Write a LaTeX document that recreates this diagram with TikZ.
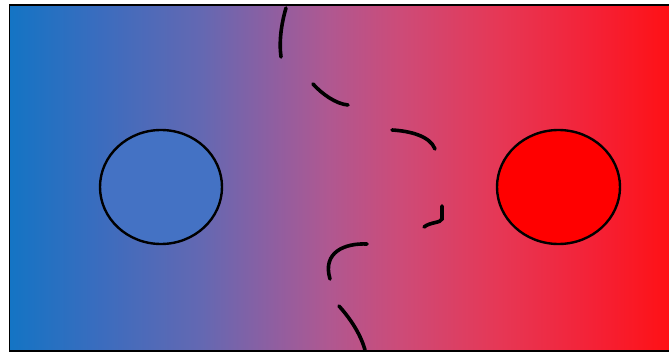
\documentclass[tikz,border=0pt]{standalone}
\pgfdeclarehorizontalshading{bluered}{100bp}{
  rgb(0bp)=(0.078,0.455,0.769);
  rgb(25bp)=(0.078,0.455,0.769);
  rgb(32bp)=(0.235,0.424,0.745);
  rgb(39.5bp)=(0.392,0.408,0.698);
  rgb(44.5bp)=(0.549,0.373,0.635);
  rgb(49bp)=(0.686,0.345,0.569);
  rgb(54.5bp)=(0.804,0.294,0.471);
  rgb(62bp)=(0.902,0.216,0.333);
  rgb(69.5bp)=(0.961,0.125,0.204);
  rgb(75bp)=(1,0.063,0.078);
  rgb(100bp)=(1,0.063,0.078)}
\definecolor{lblue}{RGB}{68,114,196}
\tikzset{rim/.style={line width=2.4pt,draw=black},
  stroke/.style={line width=3.6pt,line cap=round}}
\begin{document}
\begin{tikzpicture}[x=1pt,y=-1pt]
\useasboundingbox (0,0) rectangle (669,353);
\shade[shading=bluered] (9.5,5) rectangle (672,351);
\draw[line width=1.4pt] (672,5) -- (9.5,5) -- (9.5,351) -- (672,351);
\draw[rim,fill=lblue] (161,187) ellipse [x radius=61,y radius=57];
\draw[rim,fill=red] (558.5,187) ellipse [x radius=61.5,y radius=57];
% the broken line
\draw[stroke] (286,8) .. controls (281,25) and (279,42) .. (281,57);
\draw[stroke] (313,84) .. controls (322,94) and (336,104) .. (348,105);
\draw[stroke] (392,130) .. controls (410,131) and (430,136) .. (435,149);
\draw[stroke] (442,206) -- (442,219) .. controls (441,223) and (430,222) .. (424,227);
\draw[stroke] (367,244) .. controls (345,243) and (322,252) .. (330,279);
\draw[stroke] (339,306) .. controls (348,316) and (360,332) .. (365,350);
\end{tikzpicture}
\end{document}
